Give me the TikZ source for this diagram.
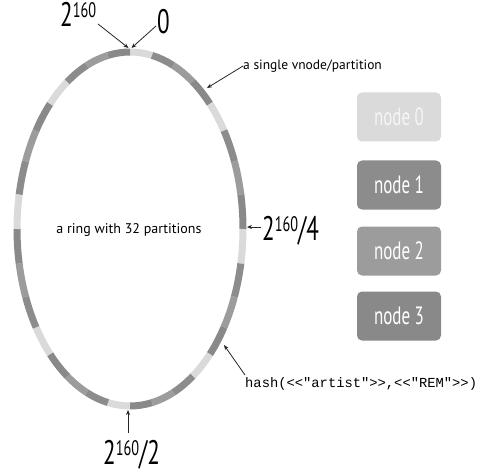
\documentclass[tikz,border=0pt]{standalone}
\usepackage{fontspec}
\setmainfont{PT Sans}
\setmonofont{Liberation Mono}
\usetikzlibrary{arrows.meta}
\definecolor{pA}{HTML}{DADADA}
\definecolor{pB}{HTML}{8C8C8C}
\definecolor{pC}{HTML}{9C9C9C}
\definecolor{pD}{HTML}{898989}
\newcommand\cnd[2]{\scalebox{0.68}[1]{\fontsize{#1}{#1}\selectfont #2}}
\newcommand\twoexp{\cnd{34}{2}\raisebox{9pt}{\cnd{21}{160}}}
\tikzset{
  lbl/.style={inner sep=0pt, anchor=base west},
  ptr/.style={-{Stealth[length=5pt,width=4pt]}, line width=0.8pt, black!85},
  nodebox/.style={rounded corners=5pt, minimum width=84pt, minimum height=49pt,
    text=white, inner sep=0pt},
  seg/.style={line width=7pt}
}
\begin{document}
\begin{tikzpicture}[x=1pt,y=1pt]
\useasboundingbox[fill=white] (0,0) rectangle (484,472);
% ring
\coordinate (c) at (130,243);
\foreach \i in {0,...,31}{
  \pgfmathsetmacro{\a}{90-11.25*\i}
  \pgfmathsetmacro{\b}{90-11.25*(\i+1)}
  \pgfmathtruncatemacro{\m}{mod(\i,4)}
  \ifcase\m \def\col{pA}\or \def\col{pB}\or \def\col{pC}\or \def\col{pD}\fi
  \draw[seg, draw=\col] ([shift={(\a:113 and 177)}]c) arc[start angle=\a, end angle=\b, x radius=113, y radius=177];
}
\coordinate (top) at (130,424);
\coordinate (vn) at (207,384);
\coordinate (q1) at (247,245);
\coordinate (hp) at (224,127);
\coordinate (bot) at (128,62);
\coordinate (s1) at (98,448);
\coordinate (s2) at (156,446);
\coordinate (s3) at (261,245);
\coordinate (s4) at (128,39);
% labels
\node[lbl] (l160) at (60,445) {\twoexp};
\node[lbl] (l0) at (157,438) {\cnd{34}{0}};
\draw[ptr] (s1) -- ([xshift=-1.5]top);
\draw[ptr] (s2) -- ([xshift=1.5]top);
\node[anchor=west, inner sep=0pt, font=\fontsize{13.5}{15}\selectfont] (vnt) at (243,406) {a single vnode/partition};
\draw[ptr] (vnt.west) -- (vn);
\node[font=\fontsize{14}{15}\selectfont] (ring) at (129,242) {a ring with 32 partitions};
\node[lbl] (q) at (262,232) {\twoexp\cnd{34}{/4}};
\draw[ptr] (s3) -- (q1);
\node[anchor=west, inner sep=0pt, font=\ttfamily\fontsize{13.8}{15}\selectfont] (hash) at (245,88) {hash(<<"artist">>,<<"REM">>)};
\draw[ptr] ([yshift=9]hash.west) -- (hp);
\node[lbl] (half) at (103,8) {\twoexp\cnd{34}{/2}};
\draw[ptr] (s4) -- (bot);
% nodes
\node[nodebox, fill=pA, text=white!92!gray] (n0) at (399,355) {\cnd{25}{node 0}};
\node[nodebox, fill=pB] (n1) at (399,287) {\cnd{25}{node 1}};
\node[nodebox, fill=pC] (n2) at (399,221) {\cnd{25}{node 2}};
\node[nodebox, fill=pD] (n3) at (399,156) {\cnd{25}{node 3}};
\end{tikzpicture}
\end{document}
